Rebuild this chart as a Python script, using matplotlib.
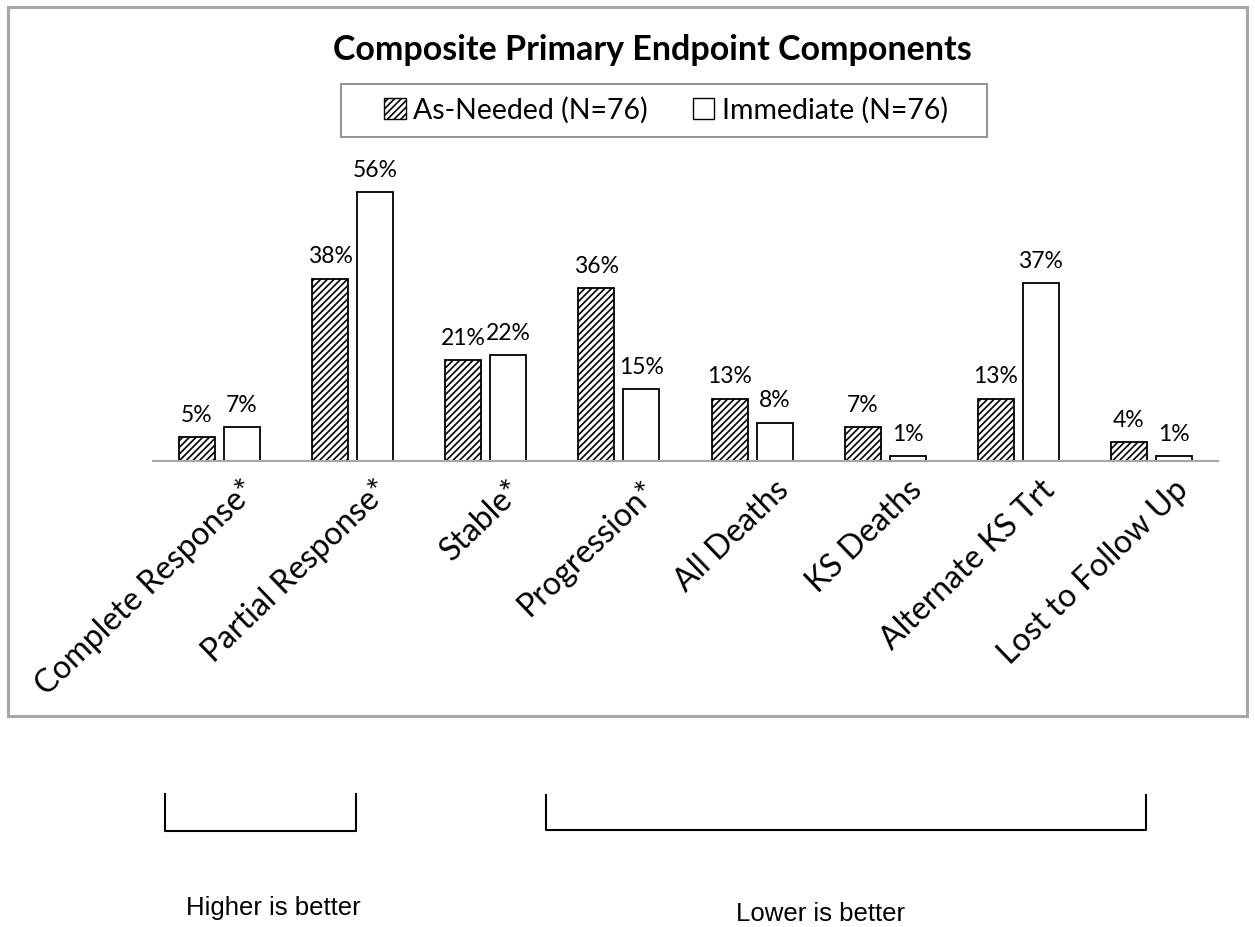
import numpy as np
import matplotlib
matplotlib.use("Agg")
import matplotlib.pyplot as plt
import matplotlib.transforms as mtransforms
from matplotlib.patches import Rectangle, Patch
from matplotlib.lines import Line2D

categories = ['Complete Response*', 'Partial Response*', 'Stable*', 'Progression*',
              'All Deaths', 'KS Deaths', 'Alternate KS Trt', 'Lost to Follow Up']
as_needed = [5, 38, 21, 36, 13, 7, 13, 4]
immediate = [7, 56, 22, 15, 8, 1, 37, 1]
series_names = ['As-Needed (N=76)', 'Immediate (N=76)']

plt.rcParams['font.family'] = ['Lato', 'DejaVu Sans']
plt.rcParams['hatch.linewidth'] = 1.2

W, H = 1255, 927
fig = plt.figure(figsize=(W / 100, H / 100), dpi=100)

# axes placed in pixel terms
ax = fig.add_axes([153 / W, (H - 461) / H, (1218 - 153) / W, 288 / H])
x = np.arange(len(categories))
bw = 0.27
off = 0.169
b1 = ax.bar(x - off, as_needed, bw, facecolor='white', edgecolor='black',
            hatch='/////', linewidth=1.3)
b2 = ax.bar(x + off, immediate, bw, facecolor='white', edgecolor='black',
            linewidth=1.3)
for bars, vals in ((b1, as_needed), (b2, immediate)):
    for r, v in zip(bars, vals):
        ax.annotate(f'{v}%', (r.get_x() + r.get_width() / 2, v),
                    xytext=(0, 8), textcoords='offset points',
                    ha='center', va='bottom', fontsize=16.5)

ax.set_xlim(-0.5, len(categories) - 0.5)
ax.set_ylim(0, 60)
for s in ['left', 'right', 'top']:
    ax.spines[s].set_visible(False)
ax.spines['bottom'].set_color('#a6a6a6')
ax.spines['bottom'].set_linewidth(1.5)
ax.set_yticks([])
ax.tick_params(axis='x', length=0)
ax.set_xticks(x)
ax.set_xticklabels(categories, rotation=44, ha='right', va='center',
                   rotation_mode='anchor', fontsize=23)
shift = mtransforms.ScaledTranslation(32 / 100, -20 / 100, fig.dpi_scale_trans)
for lab in ax.get_xticklabels():
    lab.set_transform(lab.get_transform() + shift)

fig.text(652 / W, 1 - 50 / H, 'Composite Primary Endpoint Components',
         ha='center', va='center', fontsize=24.5, fontweight='bold')

handles = [Patch(facecolor='white', edgecolor='black', hatch='/////', linewidth=1),
           Patch(facecolor='white', edgecolor='black', linewidth=1)]
leg = fig.legend(handles, series_names, loc='center', ncol=2,
                 bbox_to_anchor=(666 / W, 1 - 110 / H), fontsize=20.5,
                 frameon=False, handlelength=0.75, handleheight=0.75,
                 handletextpad=0.25, columnspacing=1.6, borderaxespad=0)
# legend frame drawn separately to get its width
fig.patches.append(Rectangle((341 / W, 1 - 137 / H), (987 - 341) / W, 53 / H,
                             transform=fig.transFigure, fill=False,
                             edgecolor='#7f7f7f', linewidth=1.2))

# outer chart border
fig.patches.append(Rectangle((8 / W, 1 - 716 / H), (1247 - 8) / W, (716 - 7) / H,
                             transform=fig.transFigure, fill=False,
                             edgecolor='#a6a6a6', linewidth=2.2))

# brackets below
def bracket(x0, x1, ytop, ybot):
    xs = [x0 / W, x0 / W, x1 / W, x1 / W]
    ys = [1 - ytop / H, 1 - ybot / H, 1 - ybot / H, 1 - ytop / H]
    fig.lines.append(Line2D(xs, ys, transform=fig.transFigure,
                            color='black', linewidth=1.5))

bracket(165, 356, 794, 831)
bracket(546, 1146, 795, 830)
fig.text(273 / W, 1 - 908 / H, 'Higher is better', ha='center', va='center',
         fontsize=18.5, family=['Liberation Sans', 'DejaVu Sans'])
fig.text(820 / W, 1 - 914 / H, 'Lower is better', ha='center', va='center',
         fontsize=18.5, family=['Liberation Sans', 'DejaVu Sans'])

fig.savefig('out.png', dpi=100)
